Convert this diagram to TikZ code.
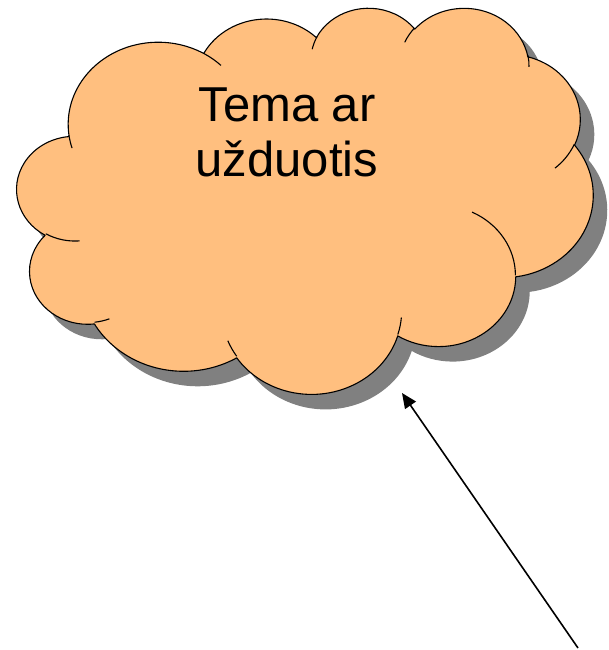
\documentclass[tikz,border=0pt]{standalone}
\usepackage{fontspec}
\setmainfont{Liberation Sans}
\usetikzlibrary{arrows.meta}
\definecolor{cloudorange}{RGB}{255,191,127}
\definecolor{cloudshadow}{RGB}{128,128,128}
\def\cldL{17}\def\cldT{7}\def\cldW{576}\def\cldH{386}
\pgfmathsetmacro\cldsx{\cldW/432}
\pgfmathsetmacro\cldsy{\cldH/432}
% arguments are shape units divided by 100
\newcommand\cldX[1]{(\cldL+#1*\cldsx)}
\newcommand\cldY[1]{(\cldT+#1*\cldsy)}
\newcommand\cldprep[4]{%
  \pgfmathparse{atan2(#1*sin(#3),#2*cos(#3))}\xdef\cldtS{\pgfmathresult}%
  \pgfmathparse{atan2(#1*sin(#3+#4),#2*cos(#3+#4))-\cldtS}\xdef\cldtD{\pgfmathresult}%
  \pgfmathparse{\cldtD-360*round((\cldtD-(#4))/360)}\xdef\cldtD{\pgfmathresult}%
  \pgfmathparse{#1*\cldsx}\xdef\cldrX{\pgfmathresult}%
  \pgfmathparse{#2*\cldsy}\xdef\cldrY{\pgfmathresult}%
}
\newcommand\cldarc[4]{\pgfextra{\cldprep{#1}{#2}{#3}{#4}} arc[start angle=\cldtS, delta angle=\cldtD, x radius=\cldrX, y radius=\cldrY]}
\newcommand\cldpath{({\cldX{39.00}},{\cldY{143.70}})
  \cldarc{67.53}{91.90}{-190.4875}{123.7805}
  \cldarc{53.33}{72.67}{-144.1024}{89.9452}
  \cldarc{43.65}{59.45}{-145.8079}{99.7230}
  \cldarc{48.57}{65.95}{-130.9861}{117.2417}
  \cldarc{53.33}{72.73}{-78.7089}{109.0269}
  \cldarc{67.75}{92.20}{-46.2673}{130.2690}
  \cldarc{57.85}{78.67}{0.6250}{114.0333}
  \cldarc{67.52}{92.15}{22.4516}{115.1726}
  \cldarc{77.20}{105.43}{66.2426}{75.7110}
  \cldarc{43.60}{59.18}{-274.9421}{146.7356}
  \cldarc{43.45}{59.45}{-246.8285}{152.5189}
  -- cycle}
\begin{document}
\begin{tikzpicture}[x=1pt,y=-1pt,
  cloudline/.style={draw=black, line width=1.1pt, line join=round},
  shadowfill/.style={fill=cloudshadow},
  cloudbody/.style={fill=cloudorange, cloudline},
  pointer/.style={draw=black, line width=1.6pt, -{Triangle[length=15pt,width=13pt]}},
  titletext/.style={font=\fontsize{49}{55}\selectfont, align=center, anchor=base, inner sep=0pt}]
\useasboundingbox (0,0) rectangle (608,650);
% shadow
\path[shadowfill, shift={(14,15)}] \cldpath;
% cloud body
\path[cloudbody] \cldpath;
% interior arcs
\draw[cloudline] ({\cldX{46.93}},{\cldY{261.77}}) \cldarc{43.45}{59.45}{86.7420}{26.4295};
\draw[cloudline] ({\cldX{69.28}},{\cldY{348.99}}) \cldarc{43.60}{59.18}{73.6105}{11.4475};
\draw[cloudline] ({\cldX{164.78}},{\cldY{390.90}}) \cldarc{67.52}{92.15}{137.6242}{14.0811};
\draw[cloudline] ({\cldX{288.27}},{\cldY{347.51}}) \cldarc{67.52}{92.15}{6.4533}{15.9984};
\draw[cloudline] ({\cldX{341.29}},{\cldY{229.54}}) \cldarc{57.85}{78.67}{-70.2924}{70.2924};
\draw[cloudline] ({\cldX{417.98}},{\cldY{153.54}}) \cldarc{53.33}{72.73}{30.3180}{27.7515};
\draw[cloudline] ({\cldX{383.24}},{\cldY{54.26}}) \cldarc{48.57}{65.95}{-13.7443}{14.8589};
\draw[cloudline] ({\cldX{290.78}},{\cldY{39.52}}) \cldarc{48.57}{65.95}{-149.1815}{18.1954};
\draw[cloudline] ({\cldX{221.41}},{\cldY{47.20}}) \cldarc{43.65}{59.45}{-163.4943}{17.6864};
\draw[cloudline] ({\cldX{140.00}},{\cldY{51.92}}) \cldarc{67.53}{91.90}{-66.7070}{12.3194};
\draw[cloudline] ({\cldX{41.27}},{\cldY{157.89}}) \cldarc{67.53}{91.90}{157.6544}{11.8582};
% text (base anchor = last line baseline)
\node[titletext] (title) at (287,176.7) {Tema ar\\užduotis};
% arrow
\coordinate (arrowstart) at (578,648);
\coordinate (arrowtip) at (402,393);
\draw[pointer] (arrowstart) -- (arrowtip);
\end{tikzpicture}
\end{document}
